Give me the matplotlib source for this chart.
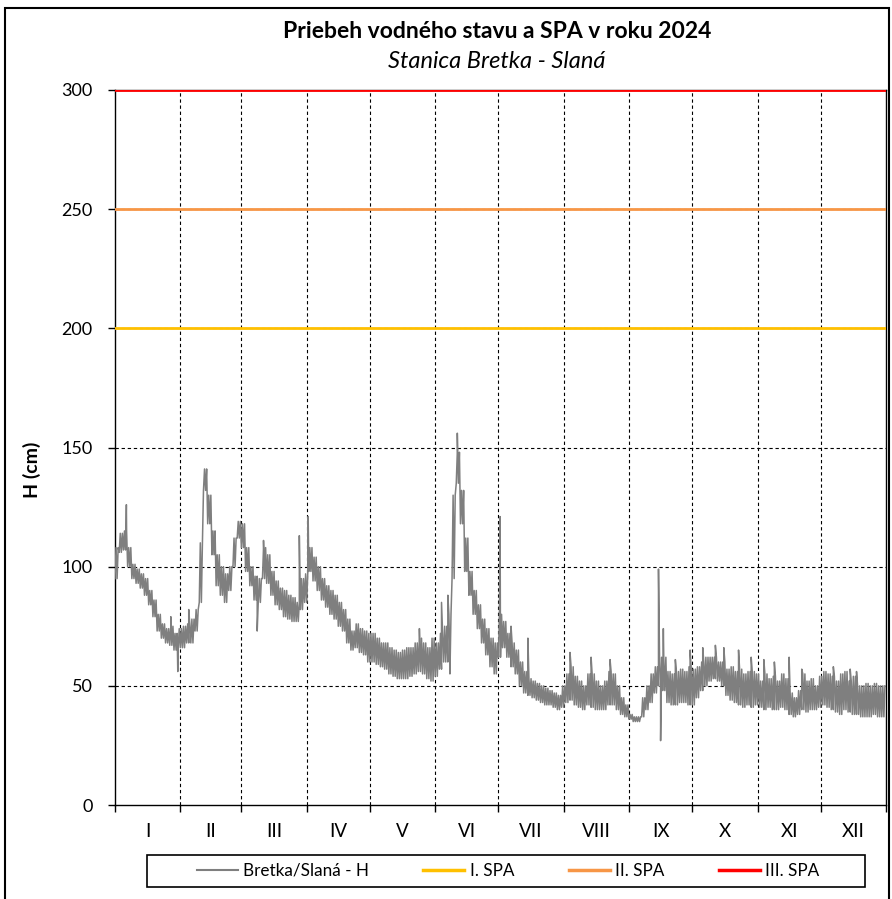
import matplotlib
matplotlib.use("Agg")
import matplotlib.pyplot as plt
from matplotlib.patches import Rectangle
from matplotlib.lines import Line2D
import numpy as np

plt.rcParams['font.family'] = ['Lato', 'DejaVu Sans']

# ---- data -------------------------------------------------------------
title = "Priebeh vodného stavu a SPA v roku 2024"
subtitle = "Stanica Bretka - Slaná"
months = ["I", "II", "III", "IV", "V", "VI", "VII", "VIII", "IX", "X", "XI", "XII"]
month_days = [31, 29, 31, 30, 31, 30, 31, 31, 30, 31, 30, 31]

spa_levels = [200, 250, 300]
spa_names = ["I. SPA", "II. SPA", "III. SPA"]
spa_colors = ["#FFC000", "#F79646", "#FF0000"]

# water level (cm), daily range in two-day steps starting 1 January
h_low = [95, 106, 107, 100, 95, 93, 91, 88, 84, 79, 73, 70, 68, 67, 65, 66,
         66, 68, 68, 73, 85, 132, 118, 105, 92, 88, 85, 90, 100, 112,
         108, 98, 92, 86, 85, 95, 93, 88, 84, 82, 79, 78, 77, 77, 82, 85,
         98, 94, 90, 86, 83, 80, 78, 75, 73, 68, 65, 66, 64, 63, 60,
         60, 59, 58, 57, 55, 54, 53, 53, 53, 54, 55, 56, 55, 53, 52,
         54, 57, 60, 60, 95, 135, 118, 98, 88, 80, 74, 68, 63, 58, 55,
         62, 66, 62, 58, 55, 50, 47, 46, 45, 44, 43, 42, 42, 41, 40, 41,
         43, 44, 42, 41, 40, 42, 41, 40, 40, 40, 42, 42, 40, 38, 37,
         36, 35, 35, 37, 40, 43, 47, 50, 48, 43, 42, 42, 43, 43, 42,
         42, 45, 48, 50, 52, 53, 52, 50, 46, 44, 43, 42, 41, 42, 41, 42,
         41, 40, 41, 40, 40, 41, 40, 38, 37, 38, 40, 39, 40, 40, 41,
         42, 41, 40, 39, 38, 40, 39, 38, 38, 37, 37, 37, 38, 37, 37]
h_high = [108, 114, 115, 108, 101, 99, 97, 95, 90, 86, 80, 76, 74, 75, 72, 74,
          75, 76, 78, 82, 110, 141, 130, 115, 105, 100, 97, 100, 112, 119,
          118, 108, 100, 96, 95, 108, 105, 98, 94, 91, 90, 88, 87, 85, 95, 97,
          108, 104, 100, 95, 92, 90, 88, 85, 82, 78, 73, 76, 74, 73, 72,
          72, 70, 68, 68, 66, 65, 64, 65, 66, 66, 68, 70, 68, 66, 70,
          68, 72, 75, 80, 130, 148, 132, 112, 98, 90, 84, 78, 74, 70, 68,
          80, 77, 72, 68, 65, 60, 56, 53, 52, 51, 50, 49, 48, 47, 46, 50,
          55, 58, 54, 52, 50, 55, 55, 52, 50, 52, 56, 55, 50, 45, 42,
          38, 37, 37, 45, 50, 55, 58, 62, 62, 56, 55, 56, 57, 56, 58,
          57, 58, 60, 62, 62, 62, 60, 60, 57, 58, 56, 57, 55, 56, 56, 55,
          52, 55, 53, 54, 52, 55, 53, 47, 45, 48, 55, 52, 53, 50, 54,
          56, 55, 54, 52, 55, 56, 52, 54, 50, 50, 51, 50, 51, 50, 50]

# short peaks and dips (day of year, cm)
spike_days = [5.4, 26.5, 29.8, 35.0, 67.5, 70.5, 87.5, 91.7, 144.5, 155.0,
              158.0, 159.0, 162.5, 182.8, 188.0, 196.0, 216.0, 226.0, 235.0,
              258.0, 259.0, 260.3, 266.0, 273.0, 279.0, 285.0, 289.0, 296.0,
              302.0, 308.0, 313.0, 320.0, 326.0, 341.0, 349.0, 352.0]
spike_vals = [126, 79, 56, 82, 73, 111, 113, 121, 74, 85,
              88, 55, 156, 121, 75, 70, 64, 62, 61,
              99, 27, 74, 61, 65, 66, 67, 66, 65,
              62, 61, 60, 62, 57, 58, 57, 56]

# ---- series assembly --------------------------------------------------
xs, ys = [], []
for i, (lo, hi) in enumerate(zip(h_low, h_high)):
    d = 2 * i
    xs += [d, d + 0.5, d + 1.0, d + 1.5]
    ys += [lo, hi, lo, hi]
xs = np.array(xs + spike_days, dtype=float)
ys = np.array(ys + spike_vals, dtype=float)
order = np.argsort(xs, kind="stable")
xs, ys = xs[order], ys[order]

# ---- figure -----------------------------------------------------------
W, H = 892, 899
fig = plt.figure(figsize=(W / 100, H / 100), dpi=100)
ax = fig.add_axes([115 / W, 1 - 805 / H, (886 - 115) / W, (805 - 90) / H])

bounds = np.concatenate([[0], np.cumsum(month_days)])
total = bounds[-1]

ax.plot(xs, ys, color="#7F7F7F", lw=1.1, zorder=3)
for lvl, col in zip(spa_levels, spa_colors):
    ax.axhline(lvl, color=col, lw=2.0, zorder=4)

ax.set_xlim(0, total)
ax.set_ylim(0, 300)

# grid
for y in range(50, 300, 50):
    ax.axhline(y, color="black", lw=0.8, ls=(0, (3, 2.5)), zorder=1)
for b in bounds[1:-1]:
    ax.axvline(b, color="black", lw=0.8, ls=(0, (3, 2.5)), zorder=1)

ax.set_yticks(range(0, 301, 50))
ax.tick_params(axis="y", direction="out", length=5, width=1, labelsize=13, pad=11)
ax.set_xticks(bounds)
ax.set_xticklabels([])
ax.tick_params(axis="x", which="major", direction="out", length=5, width=1)
mids = (bounds[:-1] + bounds[1:]) / 2
ax.set_xticks(mids, minor=True)
ax.set_xticklabels(months, minor=True)
ax.tick_params(axis="x", which="minor", length=0, labelsize=13.5, pad=13)

for s in ax.spines.values():
    s.set_color("black")
    s.set_linewidth(1.0)

fig.text(32 / W, 1 - 470 / H, "H (cm)", rotation=90, ha="center", va="center",
         fontsize=14, fontweight="bold")

fig.text(497 / W, 1 - 32 / H, title, ha="center", va="center",
         fontsize=16.5, fontweight="bold")
fig.text(497 / W, 1 - 62 / H, subtitle, ha="center", va="center",
         fontsize=17, fontstyle="italic")

# legend
handles = [Line2D([], [], color="#7F7F7F", lw=1.5)] + \
          [Line2D([], [], color=c, lw=2.5) for c in spa_colors]
labels = ["Bretka/Slaná - H"] + spa_names
fig.legend(handles, labels, loc="center", bbox_to_anchor=(508 / W, 1 - 871 / H),
           ncol=4, frameon=False, fontsize=12.3, handlelength=2.4,
           handletextpad=0.3, columnspacing=3.2)
fig.add_artist(Rectangle((147 / W, 1 - 887 / H), (865 - 147) / W, 32 / H,
                         transform=fig.transFigure, fill=False,
                         edgecolor="black", lw=1.2))

# outer frame
fig.add_artist(Rectangle((5 / W, -0.01), (889 - 5) / W, 1.01 - 8 / H,
                         transform=fig.transFigure, fill=False,
                         edgecolor="black", lw=1.5))

fig.savefig("out.png", dpi=100)
